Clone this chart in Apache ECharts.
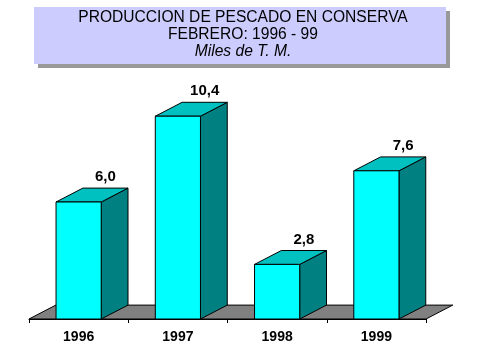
<!DOCTYPE html>
<html>
<head>
<meta charset="utf-8">
<script src="https://cdn.jsdelivr.net/npm/echarts@6/dist/echarts.min.js"></script>
<style>
html,body{margin:0;padding:0;background:#fff;}
#chart{width:479px;height:359px;}
</style>
</head>
<body>
<div id="chart"></div>
<script>
const categories = ['1996', '1997', '1998', '1999'];
const values = [6.0, 10.4, 2.8, 7.6];
const titleLines = ['PRODUCCION DE PESCADO EN CONSERVA', 'FEBRERO: 1996 - 99', 'Miles de T. M.'];

const FONT = 'Arial, "Liberation Sans", sans-serif';
const chart = echarts.init(document.getElementById('chart'), null, {renderer: 'canvas'});

function depth(bw) { return [bw * 0.27, bw * 0.14]; }

const option = {
  animation: false,
  backgroundColor: '#ffffff',
  grid: {left: 29, right: 53, top: 85, bottom: 40},
  xAxis: {
    type: 'category',
    data: categories,
    boundaryGap: true,
    axisLine: {show: true, lineStyle: {color: '#000', width: 1}},
    axisTick: {show: true, inside: false, length: 4, lineStyle: {color: '#000'}},
    axisLabel: {color: '#000', fontFamily: FONT, fontWeight: 'bold', fontSize: 14, margin: 11},
    z: 10
  },
  yAxis: {type: 'value', min: 0, max: 12, show: false, splitLine: {show: false}},
  graphic: [
    {type: 'rect', shape: {x: 38, y: 11, width: 412, height: 57}, style: {fill: '#999999'}, z: 1},
    {type: 'rect', shape: {x: 34, y: 7, width: 412, height: 57}, style: {fill: '#ccccff'}, z: 2},
    {type: 'text', x: 243, y: 18, z: 3, style: {text: titleLines[0], fill: '#000', font: '15.6px ' + FONT, textAlign: 'center', textVerticalAlign: 'middle'}},
    {type: 'text', x: 243, y: 35, z: 3, style: {text: titleLines[1], fill: '#000', font: '15.6px ' + FONT, textAlign: 'center', textVerticalAlign: 'middle'}},
    {type: 'text', x: 243, y: 52, z: 3, style: {text: titleLines[2], fill: '#000', font: 'italic 15.6px ' + FONT, textAlign: 'center', textVerticalAlign: 'middle'}}
  ],
  series: [
    {
      type: 'custom',
      data: [[0, 0]],
      z: 1,
      renderItem: function (params, api) {
        const cs = params.coordSys;
        const bw = api.size([1, 0])[0];
        const d = depth(bw);
        const y0 = api.coord([0, 0])[1];
        const xl = cs.x, xr = cs.x + cs.width;
        return {
          type: 'polygon',
          shape: {points: [[xl, y0], [xr, y0], [xr + d[0], y0 - d[1]], [xl + d[0], y0 - d[1]]]},
          style: {fill: '#808080', stroke: '#000', lineWidth: 1}
        };
      }
    },
    {
      type: 'custom',
      data: values.map((v, i) => [i, v]),
      z: 5,
      renderItem: function (params, api) {
        const idx = api.value(0);
        const v = api.value(1);
        const base = api.coord([idx, 0]);
        const top = api.coord([idx, v]);
        const bw = api.size([1, 0])[0];
        const d = depth(bw);
        const w = bw * 0.455;
        const x0 = base[0] - w / 2, x1 = base[0] + w / 2;
        const yb = base[1], yt = top[1];
        const st = {stroke: '#000', lineWidth: 1};
        const label = v.toFixed(1).replace('.', ',');
        return {
          type: 'group',
          children: [
            {type: 'polygon', shape: {points: [[x1, yb], [x1 + d[0], yb - d[1]], [x1 + d[0], yt - d[1]], [x1, yt]]},
              style: Object.assign({fill: '#008080'}, st)},
            {type: 'polygon', shape: {points: [[x0, yt], [x1, yt], [x1 + d[0], yt - d[1]], [x0 + d[0], yt - d[1]]]},
              style: Object.assign({fill: '#00c0c0'}, st)},
            {type: 'rect', shape: {x: x0, y: yt, width: w, height: yb - yt},
              style: Object.assign({fill: '#00ffff'}, st)},
            {type: 'text', x: (x0 + x1) / 2 + d[0], y: yt - d[1] - 11,
              style: {text: label, fill: '#000', font: 'bold 15px ' + FONT, textAlign: 'center', textVerticalAlign: 'middle'}}
          ]
        };
      }
    }
  ]
};
chart.setOption(option);
</script>
</body>
</html>
